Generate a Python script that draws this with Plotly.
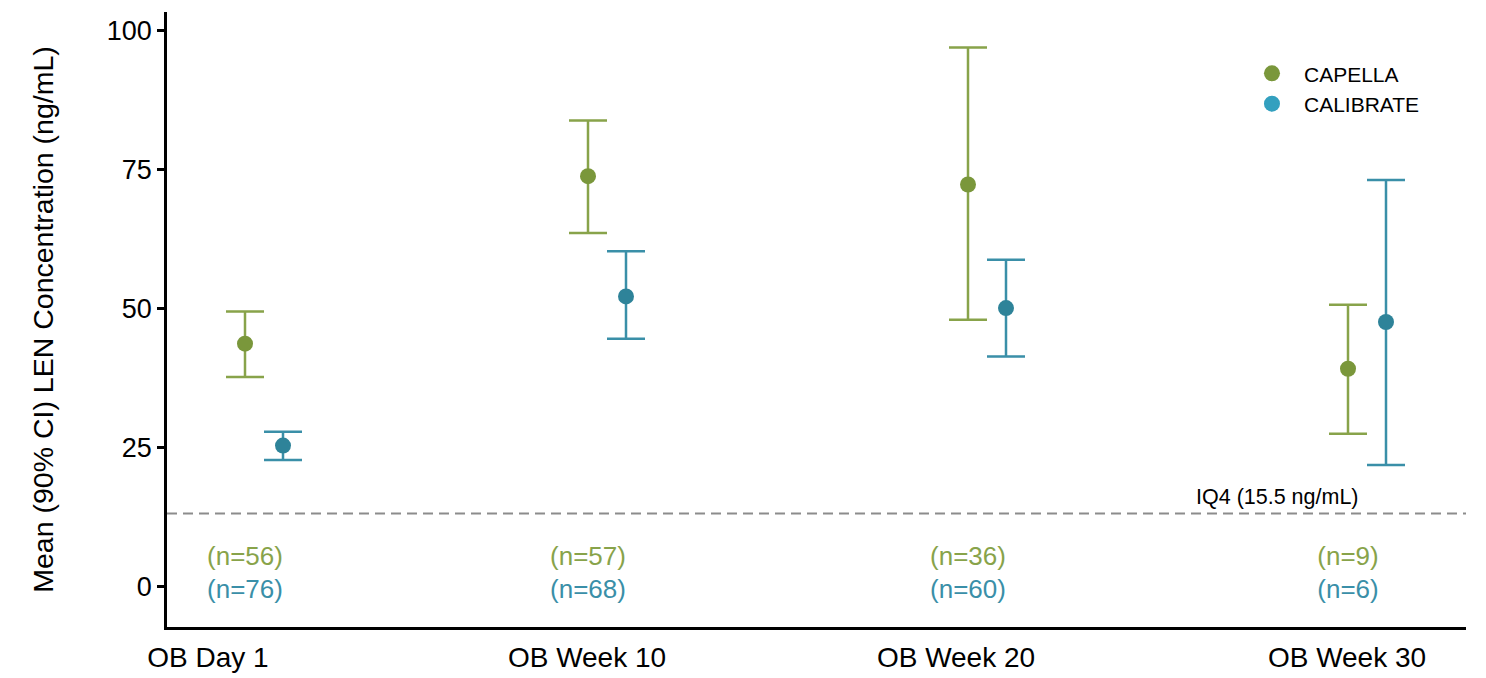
import plotly.graph_objects as go

categories = ["OB Day 1", "OB Week 10", "OB Week 20", "OB Week 30"]
tick_x = [0.41, 4.20, 7.89, 11.80]
capella_x = [0.78, 4.21, 8.01, 11.81]
calibrate_x = [1.16, 4.59, 8.39, 12.19]

capella_mean = [43.7, 73.8, 72.3, 39.2]
capella_lo = [37.7, 63.6, 48.0, 27.5]
capella_hi = [49.5, 83.8, 96.9, 50.7]

calibrate_mean = [25.4, 52.2, 50.1, 47.6]
calibrate_lo = [22.8, 44.6, 41.4, 21.9]
calibrate_hi = [27.9, 60.3, 58.8, 73.1]

capella_n = [56, 57, 36, 9]
calibrate_n = [76, 68, 60, 6]

iq4_line = 13.2
iq4_label = "IQ4 (15.5 ng/mL)"

GREEN = "#7a973b"
GREEN_BAR = "#88a34a"
BLUE = "#2e8399"
BLUE_BAR = "#3a8fa8"
BLUE_LEG = "#33a0bf"
FONT = "Liberation Sans, Arial, sans-serif"

fig = go.Figure()

def add_series(xs, mean, lo, hi, mcol, bcol):
    fig.add_trace(go.Scatter(
        x=xs, y=mean, mode="markers", showlegend=False,
        marker=dict(size=16, color=mcol),
        error_y=dict(type="data", symmetric=False,
                     array=[h - m for h, m in zip(hi, mean)],
                     arrayminus=[m - l for m, l in zip(mean, lo)],
                     color=bcol, thickness=2.5, width=19),
    ))

add_series(capella_x, capella_mean, capella_lo, capella_hi, GREEN, GREEN_BAR)
add_series(calibrate_x, calibrate_mean, calibrate_lo, calibrate_hi, BLUE, BLUE_BAR)

# legend entries
fig.add_trace(go.Scatter(x=[None], y=[None], mode="markers", name="CAPELLA",
                         marker=dict(size=16, color=GREEN)))
fig.add_trace(go.Scatter(x=[None], y=[None], mode="markers", name="CALIBRATE",
                         marker=dict(size=16, color=BLUE_LEG)))

# n labels
fig.add_trace(go.Scatter(x=capella_x, y=[5.05] * len(capella_x), mode="text",
                         text=[f"(n={n})" for n in capella_n], showlegend=False,
                         textfont=dict(size=26, color=GREEN_BAR, family=FONT)))
fig.add_trace(go.Scatter(x=capella_x, y=[-0.85] * len(capella_x), mode="text",
                         text=[f"(n={n})" for n in calibrate_n], showlegend=False,
                         textfont=dict(size=26, color=BLUE_BAR, family=FONT)))

fig.add_shape(type="line", xref="paper", x0=0, x1=1, yref="y", y0=iq4_line, y1=iq4_line,
              line=dict(color="#8c8c8c", width=2, dash="10px,6px"))
fig.add_annotation(x=11.10, y=16.2, text=iq4_label, showarrow=False,
                   font=dict(size=21.5, color="black", family=FONT))

fig.update_layout(
    width=1486, height=678,
    margin=dict(l=167, r=20, t=12, b=51),
    paper_bgcolor="white", plot_bgcolor="white",
    font=dict(family=FONT, color="black"),
    legend=dict(x=0.826, y=0.933, xanchor="left", yanchor="top",
                font=dict(size=21, color="black"), bgcolor="rgba(0,0,0,0)",
                itemwidth=54, tracegroupgap=0),
    xaxis=dict(range=[0, 12.99], showgrid=False, zeroline=False,
               tickmode="array", tickvals=tick_x, ticktext=categories,
               ticks="outside", ticklen=4, tickcolor="rgba(0,0,0,0)",
               tickfont=dict(size=28, color="black"), automargin=False,
               showline=True, linecolor="black", linewidth=2.5),
    yaxis=dict(range=[-7.2, 103.3], showgrid=False, zeroline=False,
               tickmode="array", tickvals=[0, 25, 50, 75, 100],
               ticks="outside", ticklen=7, tickwidth=2.5, tickcolor="black",
               tickfont=dict(size=27, color="black"), automargin=False,
               showline=True, linecolor="black", linewidth=2.5,
               title=dict(text="Mean (90% CI) LEN Concentration (ng/mL)",
                          font=dict(size=28.5, color="black"), standoff=45)),
)

fig.write_html("out.html", config={"displayModeBar": False},
               post_script="document.body.style.margin='0';")
